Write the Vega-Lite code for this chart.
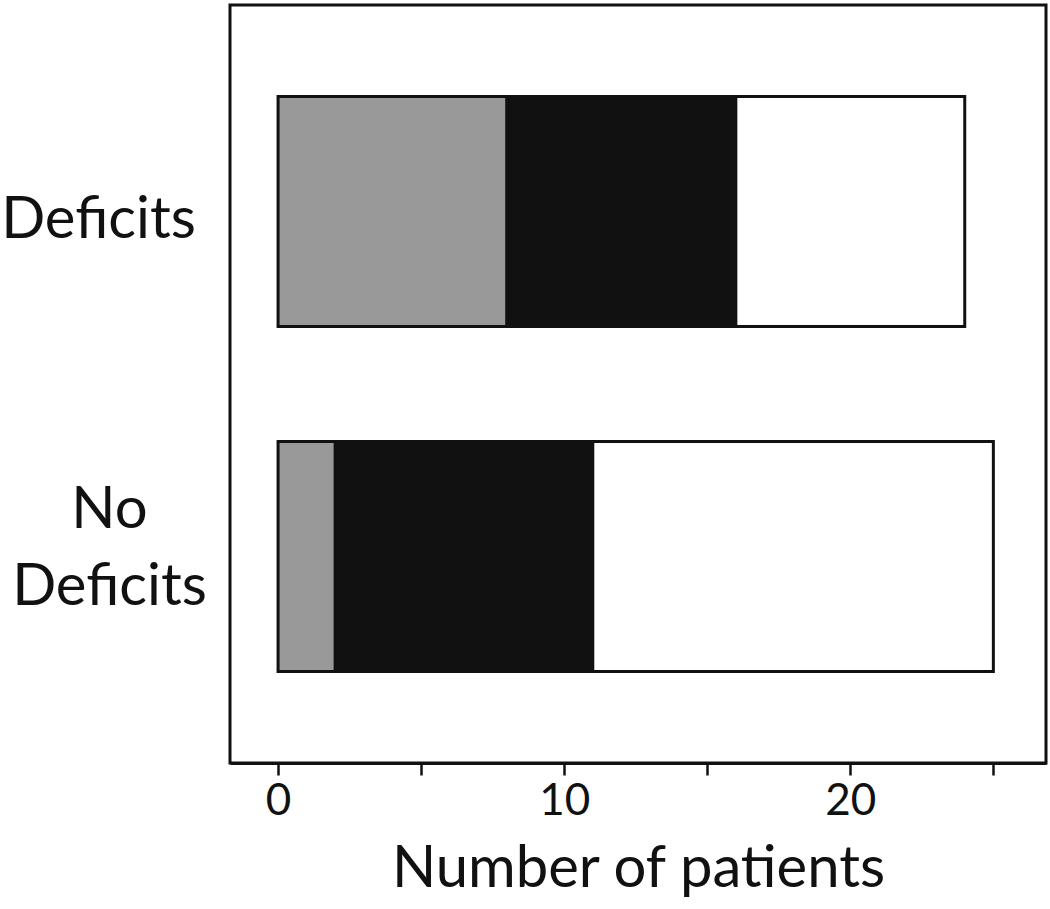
{
  "$schema": "https://vega.github.io/schema/vega-lite/v6.json",
  "autosize": "none",
  "width": 816,
  "height": 758,
  "padding": {"left": 230, "top": 5, "right": 4, "bottom": 146},
  "background": "white",
  "config": {
    "view": {"stroke": "#111111", "strokeWidth": 3},
    "font": "Lato"
  },
  "data": {
    "values": [
      {"group": "Deficits", "segment": "Group 1", "order": 1, "n": 8},
      {"group": "Deficits", "segment": "Group 2", "order": 2, "n": 8},
      {"group": "Deficits", "segment": "Group 3", "order": 3, "n": 8},
      {"group": "No Deficits", "segment": "Group 1", "order": 1, "n": 2},
      {"group": "No Deficits", "segment": "Group 2", "order": 2, "n": 9},
      {"group": "No Deficits", "segment": "Group 3", "order": 3, "n": 14}
    ]
  },
  "mark": {"type": "bar", "stroke": "#111111", "strokeWidth": 3, "opacity": 1},
  "encoding": {
    "y": {
      "field": "group",
      "type": "nominal",
      "sort": ["Deficits", "No Deficits"],
      "scale": {"paddingInner": 0.333, "paddingOuter": 0.265},
      "axis": {
        "title": null,
        "ticks": false,
        "domain": false,
        "labelFont": "Lato",
        "labelFontSize": 58,
        "labelColor": "#111111",
        "labelAlign": "center",
        "labelBaseline": "middle",
        "labelLimit": 0,
        "labelPadding": {"condition": {"test": "datum.value == 'No Deficits'", "value": 121}, "value": 132},
        "labelOffset": {"condition": {"test": "datum.value == 'No Deficits'", "value": -46}, "value": 10},
        "labelLineHeight": 77,
        "labelExpr": "datum.value == 'No Deficits' ? ['No', 'Deficits'] : datum.label"
      }
    },
    "x": {
      "field": "n",
      "type": "quantitative",
      "stack": "zero",
      "scale": {"domain": [-1.68, 26.84], "nice": false, "zero": false},
      "axis": {
        "title": "Number of patients",
        "titleFont": "Lato",
        "titleFontSize": 58,
        "titleFontWeight": "normal",
        "titleColor": "#111111",
        "titlePadding": 17,
        "values": [0, 5, 10, 15, 20, 25],
        "labelExpr": "datum.value % 10 == 0 ? datum.label : ''",
        "labelFont": "Lato",
        "labelFontSize": 44,
        "labelColor": "#111111",
        "labelPadding": 4,
        "tickSize": 12,
        "tickWidth": 2.5,
        "tickColor": "#111111",
        "domainColor": "#111111",
        "domainWidth": 3,
        "grid": false
      }
    },
    "order": {"field": "order", "type": "quantitative"},
    "color": {
      "field": "segment",
      "type": "nominal",
      "scale": {"domain": ["Group 1", "Group 2", "Group 3"], "range": ["#999999", "#111111", "#ffffff"]},
      "legend": null
    }
  }
}
